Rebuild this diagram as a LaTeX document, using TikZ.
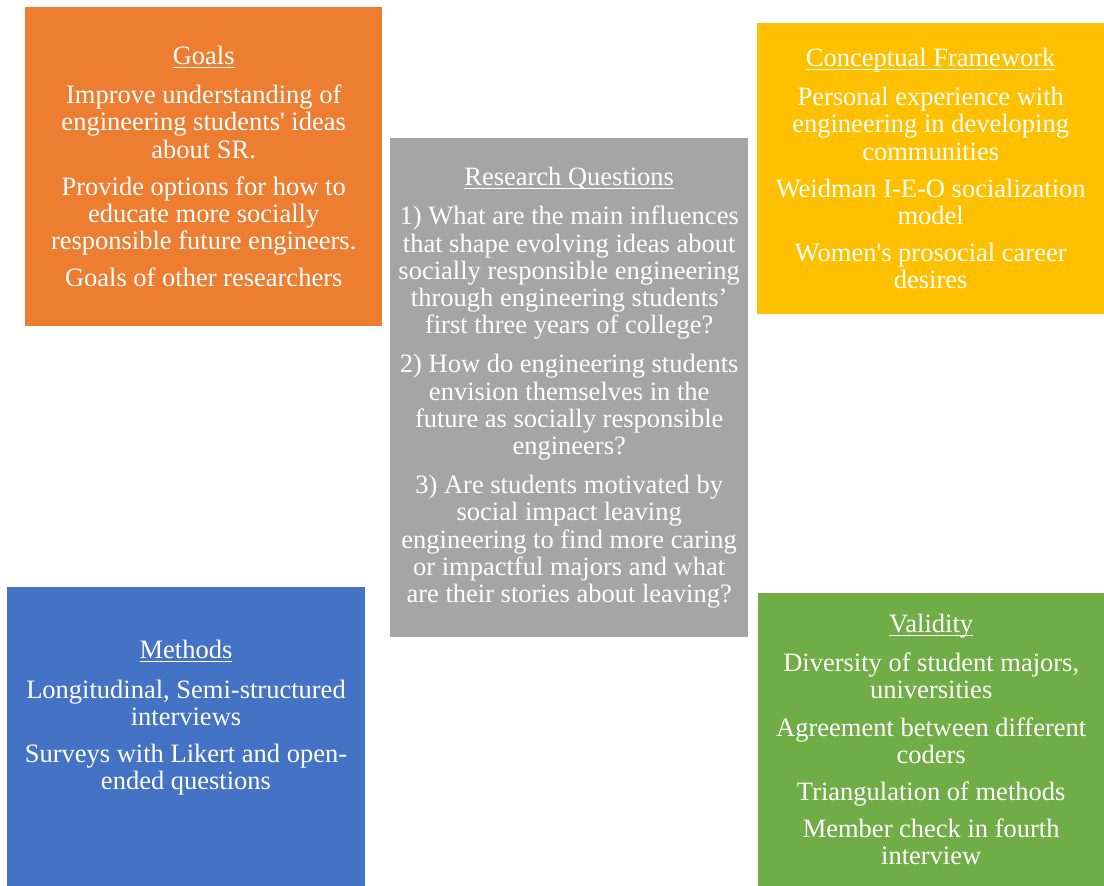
\documentclass[tikz,border=0pt]{standalone}
\usepackage{fontspec}
\setmainfont{Liberation Serif}
\usetikzlibrary{positioning}
\definecolor{goalsorange}{HTML}{ED7D31}
\definecolor{conceptgold}{HTML}{FFC000}
\definecolor{questionsgray}{HTML}{A5A5A5}
\definecolor{methodsblue}{HTML}{4472C4}
\definecolor{validitygreen}{HTML}{70AD47}
\newsavebox{\titlebox}
\newcommand{\paneltitle}[1]{\sbox{\titlebox}{#1}%
    \rlap{\rule[-3.5pt]{\wd\titlebox}{1.1pt}}\usebox{\titlebox}\\[12pt]}

\begin{document}
\begin{tikzpicture}
        [x=1pt, y=-1pt,
        panel/.style={rectangle, inner sep=0pt, anchor=north west},
        % panel/.style={draw=white, thick},
        panel text/.style={text=white, align=center, inner sep=0pt,
        font=\fontsize{26.5}{27.2}\selectfont}]
        \useasboundingbox [fill=white] (0,0) rectangle (1104,886);
        \node [panel, fill=goalsorange, minimum width=357pt, minimum height=319pt] (goals) at (25,7) {};
        \node [panel, fill=conceptgold, minimum width=347pt, minimum height=291pt] (concept) at (757,23) {};
        \node [panel, fill=questionsgray, minimum width=358pt, minimum height=499pt] (questions) at (390,138) {};
        \node [panel, fill=methodsblue, minimum width=358pt, minimum height=299pt] (methods) at (7,587) {};
        \node [panel, fill=validitygreen, minimum width=346pt, minimum height=293pt] (validity) at (758,593) {};

        \node [panel text] (goalstext) at (goals.center) {\paneltitle{Goals}
            Improve understanding of\\ engineering students\textquotesingle{} ideas\\ about SR.\\[10pt]
            Provide options for how to\\ educate more socially\\ responsible future engineers.\\[10pt]
            Goals of other researchers};
        \node [panel text] (concepttext) at (concept.center) {\paneltitle{Conceptual Framework}
            Personal experience with\\ engineering in developing\\ communities\\[10pt]
            Weidman I-E-O socialization\\ model\\[10pt]
            Women\textquotesingle s prosocial career\\ desires};
        \node [panel text] (questionstext) at (questions.center) {\paneltitle{Research Questions}
            1) What are the main influences\\ that shape evolving ideas about\\ socially responsible engineering\\ through engineering students’\\ first three years of college?\\[12pt]
            2) How do engineering students\\ envision themselves in the\\ future as socially responsible\\ engineers?\\[12pt]
            3) Are students motivated by\\ social impact leaving\\ engineering to find more caring\\ or impactful majors and what\\ are their stories about leaving?};
        \node [panel text] (methodstext) at (186,718) {\paneltitle{Methods}
            Longitudinal, Semi-structured\\ interviews\\[10pt]
            Surveys with Likert and open-\\ ended questions};
        \node [panel text] (validitytext) at (validity.center) {\paneltitle{Validity}
            Diversity of student majors,\\ universities\\[10pt]
            Agreement between different\\ coders\\[10pt]
            Triangulation of methods\\[10pt]
            Member check in fourth\\ interview};
\end{tikzpicture}
\end{document}
